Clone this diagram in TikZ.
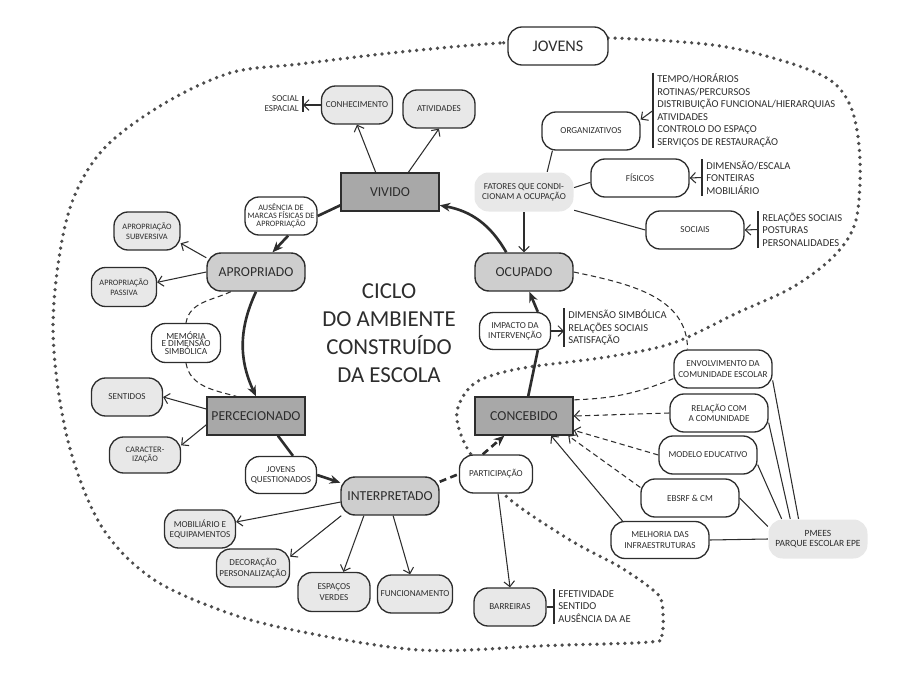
\documentclass[tikz,border=0pt]{standalone}
\usepackage{fontspec}
\setmainfont{Carlito}
\definecolor{stagedark}{RGB}{168, 168, 168}
\definecolor{stagelight}{RGB}{206, 206, 206}
\definecolor{satgray}{RGB}{232, 232, 232}
\definecolor{inkgray}{RGB}{45, 45, 45}
\usetikzlibrary{arrows.meta, positioning, calc}
\newcommand{\apertado}{\lineskiplimit=-5pt\relax}

\begin{document}
\begin{tikzpicture}[
    fase/.style={draw=inkgray, line width=0.8pt, fill=stagedark, text=inkgray, minimum width=1.96cm, minimum height=0.76cm, inner sep=1pt, font=\fontsize{7.8}{9}\selectfont},
    faseround/.style={fase, fill=stagelight, rounded corners=8pt},
    sat/.style={draw=inkgray, line width=0.75pt, fill=satgray, text=inkgray, rounded corners=8pt, minimum width=1.42cm, minimum height=0.76cm, inner sep=1pt, align=center, font=\fontsize{5.2}{5.9}\selectfont},
    satw/.style={sat, fill=white},
    satlong/.style={satw, minimum width=1.96cm},
    fator/.style={sat, draw=none, minimum width=1.98cm, minimum height=0.78cm},
    lista/.style={anchor=west, inner xsep=0.08cm, inner ysep=0.5pt, align=left, text=inkgray, font=\fontsize{6}{7.15}\selectfont},
    listaesq/.style={lista, anchor=east, align=right, inner ysep=0pt, font=\fontsize{5.2}{5.7}\selectfont},
    ciclo/.style={-{Stealth[length=6pt, width=5pt]}, line width=1.5pt, inkgray},
    seta/.style={-{Straight Barb[length=3pt, width=6pt]}, line width=0.6pt, inkgray},
    liga/.style={line width=0.6pt, inkgray},
    traco/.style={dash pattern=on 3pt off 2pt},
    tracogrosso/.style={dash pattern=on 4pt off 2.5pt},
    fronteira/.style={line width=2.1pt, inkgray!85, dash pattern=on 0pt off 3.97pt, line cap=round}
  ]
  \useasboundingbox (0,0) rectangle (18,-13.68);

  % Area of the young people (dotted)
  \draw[fronteira] plot[smooth cycle, tension=0.55] coordinates {
    (11.16,-0.84) (10.0,-0.86) (8.0,-1.04) (6.0,-1.28) (4.6,-1.46) (3.2,-2.12)
    (2.0,-3.06) (1.34,-4.36) (1.06,-6.54) (1.34,-8.74) (2.0,-10.48) (3.0,-11.54)
    (4.4,-12.2) (5.86,-12.6) (8.4,-13.0) (11.0,-12.91) (13.0,-12.84) (13.24,-12.7)
    (13.24,-12.06) (13.06,-11.8) (12.4,-11.34) (11.4,-10.8) (10.14,-9.94) (9.4,-9.06)
    (9.14,-8.4) (9.24,-7.96) (9.6,-7.6) (10.46,-7.36) (12.14,-7.14) (13.46,-6.86)
    (14.74,-6.26) (15.86,-5.74) (16.7,-5.1) (17.12,-4.4) (17.2,-3.2) (17.04,-2.2)
    (16.6,-1.6) (15.6,-1.2) (14.26,-0.9) (12.2,-0.76)
  };
  \node[satw, minimum width=2cm, font=\fontsize{9.2}{10}\selectfont] (jov) at (11.16,-0.92) {JOVENS};

  % Stages of the cycle
  \node[fase] (viv) at (7.8,-3.84) {VIVIDO};
  \node[faseround] (ocu) at (10.48,-5.44) {OCUPADO};
  \node[fase] (con) at (10.48,-8.32) {CONCEBIDO};
  \node[faseround] (int) at (7.8,-9.92) {INTERPRETADO};
  \node[fase] (per) at (5.12,-8.32) {PERCECIONADO};
  \node[faseround] (apr) at (5.12,-5.44) {APROPRIADO};

  % Title
  \node[align=center, text=inkgray, font=\fontsize{13}{15.9}\selectfont] (titulo) at (7.78,-6.67) {CICLO\\DO AMBIENTE\\CONSTRUÍDO\\DA ESCOLA};

  % Labels on the cycle
  \node[satw, minimum width=1.44cm, font=\fontsize{4.7}{4.6}\selectfont\apertado] (aus) at (5.62,-4.32) {AUSÊNCIA DE\\MARCAS FÍSICAS DE\\APROPRIAÇÃO};
  \node[satw, minimum height=0.74cm] (jq) at (5.62,-9.5) {JOVENS\\QUESTIONADOS};
  \node[satw, minimum width=1.46cm] (par) at (9.92,-9.48) {PARTICIPAÇÃO};
  \node[satw, minimum height=0.74cm] (imp) at (10.3,-6.62) {IMPACTO DA\\INTERVENÇÃO};

  % Cycle arrows
  \draw[ciclo] (ocu.132) to[bend right=25] (viv.-15);
  \draw[ciclo, -] (viv.-165) -- (aus.east);
  \draw[ciclo] (aus.-70) -- (apr.50);
  \draw[ciclo] (apr.south) to[bend right=25] (per.north);
  \draw[ciclo, -] (per.-42) -- (jq.58);
  \draw[ciclo] (jq.east) -- (int.165);
  \draw[ciclo, -, tracogrosso] (int.16) -- (par.west);
  \draw[ciclo, tracogrosso] (par.124) -- (con.-135);
  \draw[ciclo, -] (con.78) -- (imp.-40);
  \draw[ciclo] (imp.40) -- (ocu.-75);

  % Around VIVIDO
  \node[sat] (conh) at (7.14,-2.1) {CONHECIMENTO};
  \node[sat, minimum width=1.44cm] (ativ) at (8.78,-2.18) {ATIVIDADES};
  \node[listaesq] (socesp) at (6.06,-2.08) {SOCIAL\\ESPACIAL};
  \draw[seta] (viv.126) -- (conh.south);
  \draw[seta] (viv.47) -- (ativ.south);
  \draw[liga] (socesp.north east) -- (socesp.south east);
  \draw[seta] (conh.west) -- (conh.west -| socesp.east);

  % Around OCUPADO
  \node[fator] (fat) at (10.48,-3.84) {FATORES QUE CONDI-\\CIONAM A OCUPAÇÃO};
  \node[satlong] (org) at (11.82,-2.62) {ORGANIZATIVOS};
  \node[satlong] (fis) at (12.8,-3.56) {FÍSICOS};
  \node[satlong] (soc) at (13.9,-4.6) {SOCIAIS};
  \node[lista] (orgl) at (13.06,-2.21) {TEMPO/HORÁRIOS\\ROTINAS/PERCURSOS\\DISTRIBUIÇÃO FUNCIONAL/HIERARQUIAS\\ATIVIDADES\\CONTROLO DO ESPAÇO\\SERVIÇOS DE RESTAURAÇÃO};
  \node[lista] (fisl) at (14.04,-3.55) {DIMENSÃO/ESCALA\\FONTEIRAS\\MOBILIÁRIO};
  \node[lista] (socl) at (15.16,-4.59) {RELAÇÕES SOCIAIS\\POSTURAS\\PERSONALIDADES};
  \draw[seta] (fat.south) -- (ocu.north);
  \draw[liga] (fat.41) -- (org.-153);
  \draw[liga] (fat.5) -- (fis.-175);
  \draw[liga] (fat.-20) -- (soc.west);
  \draw[liga] (orgl.north west) -- (orgl.south west);
  \draw[liga] (fisl.north west) -- (fisl.south west);
  \draw[liga] (socl.north west) -- (socl.south west);
  \draw[seta] (orgl.west) -- (org.13);
  \draw[seta] (fisl.west) -- (fis.east);
  \draw[seta] (socl.west) -- (soc.east);

  % Impact of the intervention
  \node[lista] (impl) at (11.28,-6.55) {DIMENSÃO SIMBÓLICA\\RELAÇÕES SOCIAIS\\SATISFAÇÃO};
  \draw[liga] (impl.north west) -- (impl.south west);
  \draw[seta] (imp.east) -- (imp.east -| impl.west);

  % Around CONCEBIDO
  \node[satlong] (env) at (14.46,-7.38) {ENVOLVIMENTO DA\\COMUNIDADE ESCOLAR};
  \node[satlong] (rel) at (14.38,-8.26) {RELAÇÃO COM\\A COMUNIDADE};
  \node[satlong] (mod) at (14.16,-9.1) {MODELO EDUCATIVO};
  \node[satlong] (ebs) at (13.8,-9.96) {EBSRF \& CM};
  \node[satlong, minimum height=0.74cm] (mel) at (13.2,-10.8) {MELHORIA DAS\\INFRAESTRUTURAS};
  \node[fator, font=\fontsize{5.4}{6.1}\selectfont] (pme) at (16.36,-10.78) {PMEES\\PARQUE ESCOLAR EPE};
  \draw[liga, traco] (ocu.east) to[out=-12, in=90] (env.151);
  \draw[liga, traco] (env.-169) to[bend left=10] (con.18);
  \draw[seta, traco] (rel.west) -- (con.east);
  \draw[seta, traco] (mod.west) -- (con.-16);
  \draw[seta, traco] (ebs.168) -- (con.-24);
  \draw[seta] (mel.153) -- (con.-36);
  \draw[liga] (pme.west) -- (mel.east);
  \draw[liga] (pme.166) -- (ebs.east);
  \draw[liga] (pme.151) -- (mod.-11);
  \draw[liga] (pme.144) -- (rel.-11);
  \draw[liga] (pme.134) -- (env.-13);

  % Participation and barriers
  \node[sat, minimum width=1.44cm] (barr) at (10.2,-12.14) {BARREIRAS};
  \node[lista] (barrl) at (11.08,-12.13) {EFETIVIDADE\\SENTIDO\\AUSÊNCIA DA AE};
  \draw[seta] (par.-84) -- (barr.north);
  \draw[liga] (barrl.north west) -- (barrl.south west);
  \draw[liga] (barr.east) -- (barr.east -| barrl.west);

  % Around APROPRIADO
  \node[sat, minimum width=1.32cm, font=\fontsize{4.7}{5.6}\selectfont] (sub) at (2.94,-4.62) {APROPRIAÇÃO\\SUBVERSIVA};
  \node[sat, minimum width=1.3cm, minimum height=0.78cm, font=\fontsize{4.7}{5.6}\selectfont] (pas) at (2.48,-5.74) {APROPRIAÇÃO\\PASSIVA};
  \node[satw, minimum width=1.38cm, minimum height=0.78cm, font=\fontsize{5.3}{4.3}\selectfont\apertado] (mem) at (3.72,-6.86) {MEMÓRIA\\E DIMENSÃO\\SIMBÓLICA};
  \draw[seta] (apr.164) -- (sub.-20);
  \draw[seta] (apr.west) -- (pas.8);
  \draw[liga, traco] (apr.-142) to[out=205, in=80] (mem.north);
  \draw[liga, traco] (mem.south) to[out=-80, in=165] (per.135);

  % Around PERCECIONADO
  \node[sat] (sen) at (2.54,-7.94) {SENTIDOS};
  \node[sat, minimum height=0.72cm, font=\fontsize{4.8}{5.6}\selectfont] (car) at (2.9,-9.1) {CARACTER-\\IZAÇÃO};
  \draw[seta] (per.172) -- (sen.east);
  \draw[seta] (per.-170) -- (car.15);

  % Around INTERPRETADO
  \node[sat] (mob) at (4.0,-10.58) {MOBILIÁRIO E\\EQUIPAMENTOS};
  \node[sat, minimum width=1.46cm] (dec) at (5.06,-11.36) {DECORAÇÃO\\PERSONALIZAÇÃO};
  \node[sat, minimum width=1.44cm, minimum height=0.78cm] (esp) at (6.68,-11.84) {ESPAÇOS\\VERDES};
  \node[sat, minimum width=1.5cm] (fun) at (8.3,-11.88) {FUNCIONAMENTO};
  \draw[seta] (int.-173) -- (mob.11);
  \draw[seta] (int.-158) -- (dec.17);
  \draw[seta] (int.-143) -- (esp.65);
  \draw[seta] (int.-81) -- (fun.104);
\end{tikzpicture}
\end{document}
